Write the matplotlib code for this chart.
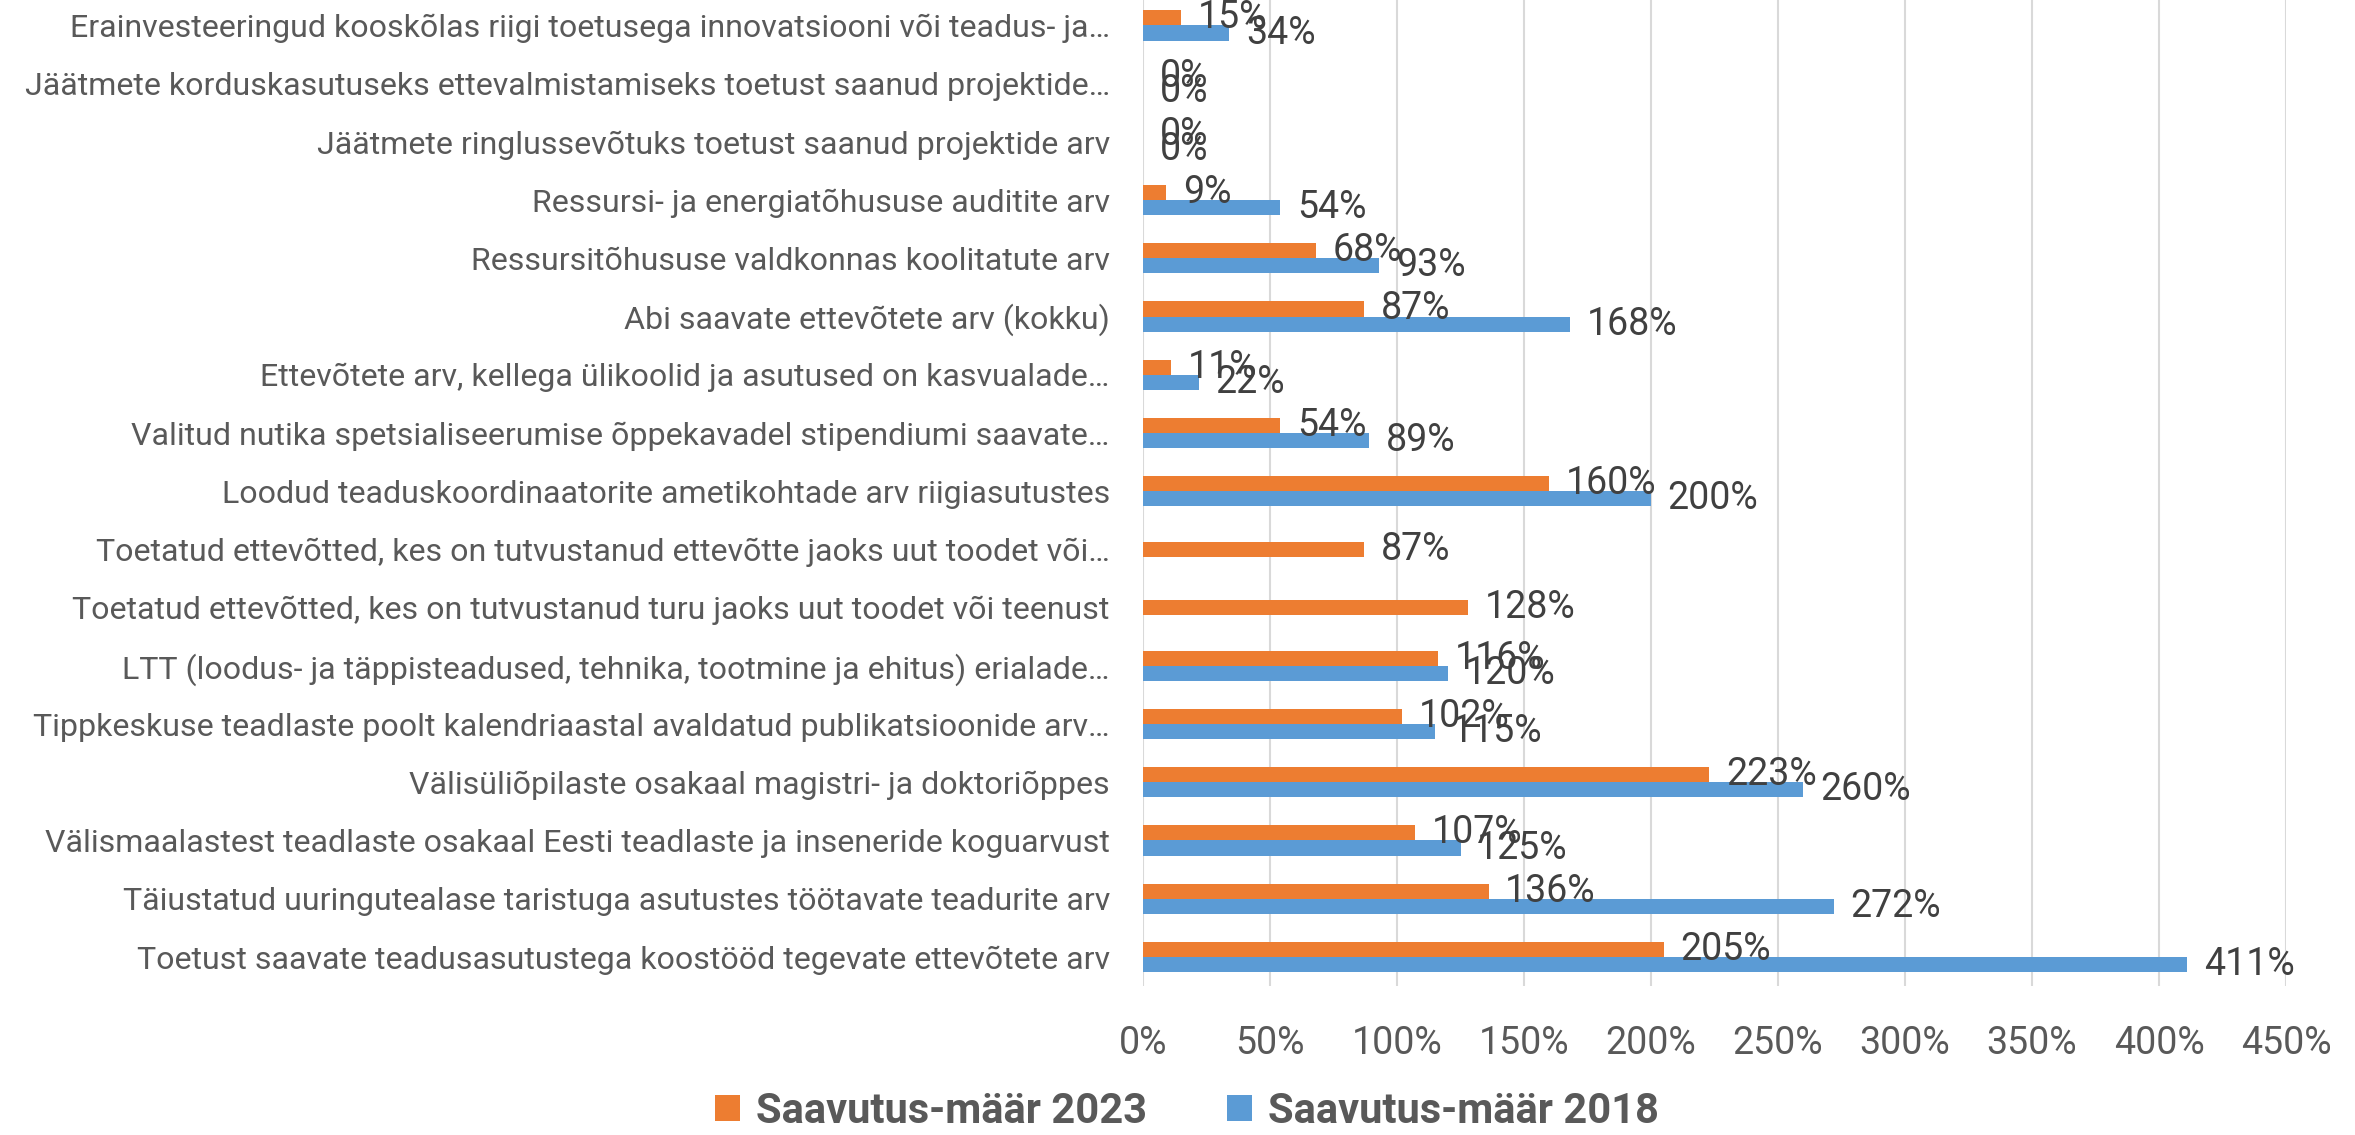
import numpy as np
import matplotlib
matplotlib.use("Agg")
import matplotlib.pyplot as plt
from matplotlib import font_manager

categories = [
    "Erainvesteeringud kooskõlas riigi toetusega innovatsiooni või teadus- ja…",
    "Jäätmete korduskasutuseks ettevalmistamiseks toetust saanud projektide…",
    "Jäätmete ringlussevõtuks toetust saanud projektide arv",
    "Ressursi- ja energiatõhususe auditite arv",
    "Ressursitõhususe valdkonnas koolitatute arv",
    "Abi saavate ettevõtete arv (kokku)",
    "Ettevõtete arv, kellega ülikoolid ja asutused on kasvualade…",
    "Valitud nutika spetsialiseerumise õppekavadel stipendiumi saavate…",
    "Loodud teaduskoordinaatorite ametikohtade arv riigiasutustes",
    "Toetatud ettevõtted, kes on tutvustanud ettevõtte jaoks uut toodet või…",
    "Toetatud ettevõtted, kes on tutvustanud turu jaoks uut toodet või teenust",
    "LTT (loodus- ja täppisteadused, tehnika, tootmine ja ehitus) erialade…",
    "Tippkeskuse teadlaste poolt kalendriaastal avaldatud publikatsioonide arv…",
    "Välisüliõpilaste osakaal magistri- ja doktoriõppes",
    "Välismaalastest teadlaste osakaal Eesti teadlaste ja inseneride koguarvust",
    "Täiustatud uuringutealase taristuga asutustes töötavate teadurite arv",
    "Toetust saavate teadusasutustega koostööd tegevate ettevõtete arv",
]
saavutus_2023 = [15, 0, 0, 9, 68, 87, 11, 54, 160, 87, 128, 116, 102, 223, 107, 136, 205]
saavutus_2018 = [34, 0, 0, 54, 93, 168, 22, 89, 200, np.nan, np.nan, 120, 115, 260, 125, 272, 411]
series_names = ["Saavutus-määr 2023", "Saavutus-määr 2018"]
x_ticks = [0, 50, 100, 150, 200, 250, 300, 350, 400, 450]

C_ORANGE = "#ED7D31"
C_BLUE = "#5B9BD5"

avail = {f.name for f in font_manager.fontManager.ttflist}
FONT = "Roboto" if "Roboto" in avail else "DejaVu Sans"
plt.rcParams["font.family"] = [FONT, "DejaVu Sans"]

fig = plt.figure(figsize=(23.55, 11.35), dpi=100)
ax = fig.add_axes([0.4854, 0.1313, 0.4853, 0.8719])

v23 = np.array(saavutus_2023, dtype=float)
v18 = np.array(saavutus_2018, dtype=float)
n = len(categories)
y = np.arange(n)
bw = 0.26
missing = np.isnan(v18)
off23 = np.where(missing, 0.0, -bw / 2)
off18 = bw / 2

b23 = ax.barh(y + off23, v23, height=bw, color=C_ORANGE, label=series_names[0], zorder=3)
b18 = ax.barh(y + off18, np.nan_to_num(v18), height=bw, color=C_BLUE, label=series_names[1], zorder=3)
for i in np.where(missing)[0]:
    b18[i].set_visible(False)

for bars, vals in ((b23, v23), (b18, v18)):
    for rect, v in zip(bars, vals):
        if np.isnan(v):
            continue
        ax.annotate(f"{v:.0f}%", xy=(v, rect.get_y() + rect.get_height() / 2),
                    xytext=(12, 0), textcoords="offset points",
                    ha="left", va="center", fontsize=27, color="#404040", zorder=5)

ax.set_xlim(0, 450)
ax.set_ylim(n - 0.5, -0.5)
ax.set_yticks(y)
ax.set_yticklabels(categories, fontsize=23.1, color="#595959")
ax.set_xticks(x_ticks)
ax.set_xticklabels([f"{t}%" for t in x_ticks], fontsize=27, color="#595959")
ax.tick_params(axis="y", length=0, pad=24)
ax.tick_params(axis="x", length=0, pad=28)
for s in ax.spines.values():
    s.set_visible(False)
ax.grid(axis="x", color="#D9D9D9", linewidth=1.5, zorder=0)
ax.set_axisbelow(True)

leg = fig.legend(handles=[b23, b18], labels=series_names, loc="center",
                 bbox_to_anchor=(0.504, 0.021), ncol=2, frameon=False,
                 prop={"family": [FONT, "DejaVu Sans"], "weight": "bold", "size": 30},
                 handlelength=0.6, handleheight=0.6, handletextpad=0.4,
                 columnspacing=1.9, borderpad=0)
for t in leg.get_texts():
    t.set_color("#595959")

fig.savefig("out.png", dpi=100)
